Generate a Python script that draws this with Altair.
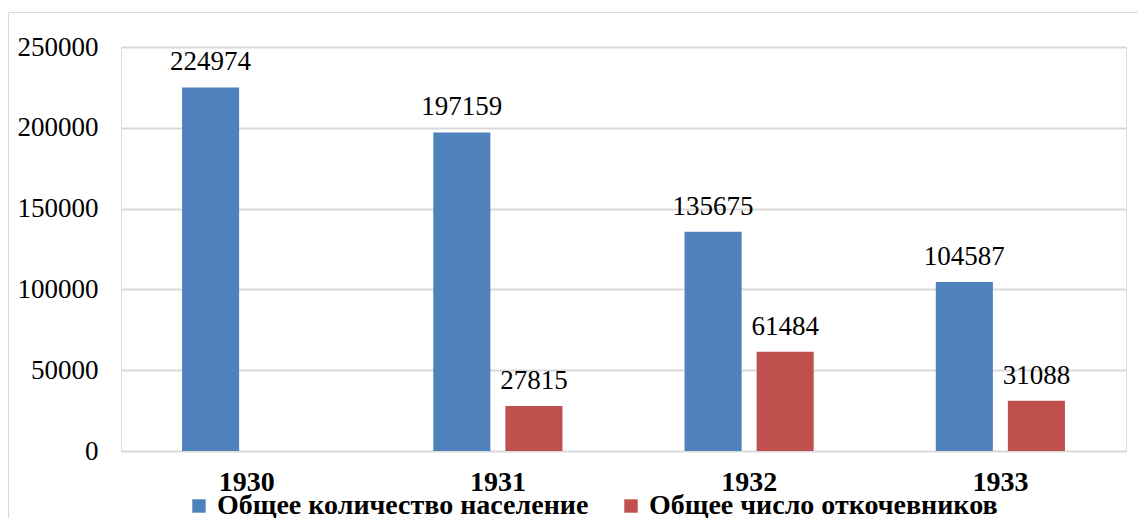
import altair as alt
import pandas as pd

years = ["1930", "1931", "1932", "1933"]
series = ["Общее количество население", "Общее число откочевников"]
population = [224974, 197159, 135675, 104587]
nomads = [None, 27815, 61484, 31088]
colors = ["#4F81BD", "#C0504D"]
y_ticks = [0, 50000, 100000, 150000, 200000, 250000]

rows = []
for i, yr in enumerate(years):
    rows.append({"year": yr, "series": series[0], "value": population[i]})
    if nomads[i] is not None:
        rows.append({"year": yr, "series": series[1], "value": nomads[i]})
df = pd.DataFrame(rows)

FONT = "Liberation Serif"

x_enc = alt.X("year:N", sort=years,
              scale=alt.Scale(paddingInner=0.486, paddingOuter=0.243),
              axis=alt.Axis(title=None, domain=False, ticks=False, labelAngle=0,
                            labelFont=FONT, labelFontSize=28, labelFontWeight="bold",
                            labelColor="black", labelPadding=17))
xoff = alt.XOffset("series:N", sort=series,
                   scale=alt.Scale(domain=series, paddingInner=0.208, paddingOuter=0))
y_enc = alt.Y("value:Q", scale=alt.Scale(domain=[0, 250000], nice=False),
              axis=alt.Axis(title=None, values=y_ticks, format="d", domain=False, ticks=False,
                            grid=True, gridColor="#d9d9d9", gridWidth=2,
                            labelFont=FONT, labelFontSize=27, labelColor="black",
                            labelPadding=23, labelBaseline="middle"))

bars = alt.Chart(df).mark_bar().encode(
    x=x_enc, xOffset=xoff, y=y_enc,
    color=alt.Color("series:N", sort=series,
                    scale=alt.Scale(domain=series, range=colors),
                    legend=alt.Legend(title=None, orient="none", direction="horizontal",
                                      legendX=64, legendY=445, padding=0,
                                      symbolType="square", symbolSize=180,
                                      symbolStrokeWidth=0, columnPadding=28,
                                      labelFont=FONT, labelFontSize=28,
                                      labelFontWeight="bold", labelColor="black",
                                      labelOffset=4, labelLimit=600)),
)

labels = alt.Chart(df).mark_text(font=FONT, fontSize=27, color="black",
                                 baseline="alphabetic", dy=-17).encode(
    x=alt.X("year:N", sort=years), xOffset=xoff, y="value:Q",
    text=alt.Text("value:Q", format="d"),
)

border = alt.Chart(pd.DataFrame({"a": [0]})).mark_rect(
    fill=None, stroke="#d9d9d9", strokeWidth=1).encode(
    x=alt.value(-112.5), x2=alt.value(1100), y=alt.value(-34.5), y2=alt.value(520))

chart = alt.layer(border, bars, labels).properties(
    width=1005, height=404,
    autosize=alt.AutoSizeParams(type="none"),
    padding={"left": 113, "top": 39, "right": 12, "bottom": 67},
).configure_view(stroke=None).configure(background="white")

chart.save("out.html", embed_options={"renderer": "svg", "actions": False})
